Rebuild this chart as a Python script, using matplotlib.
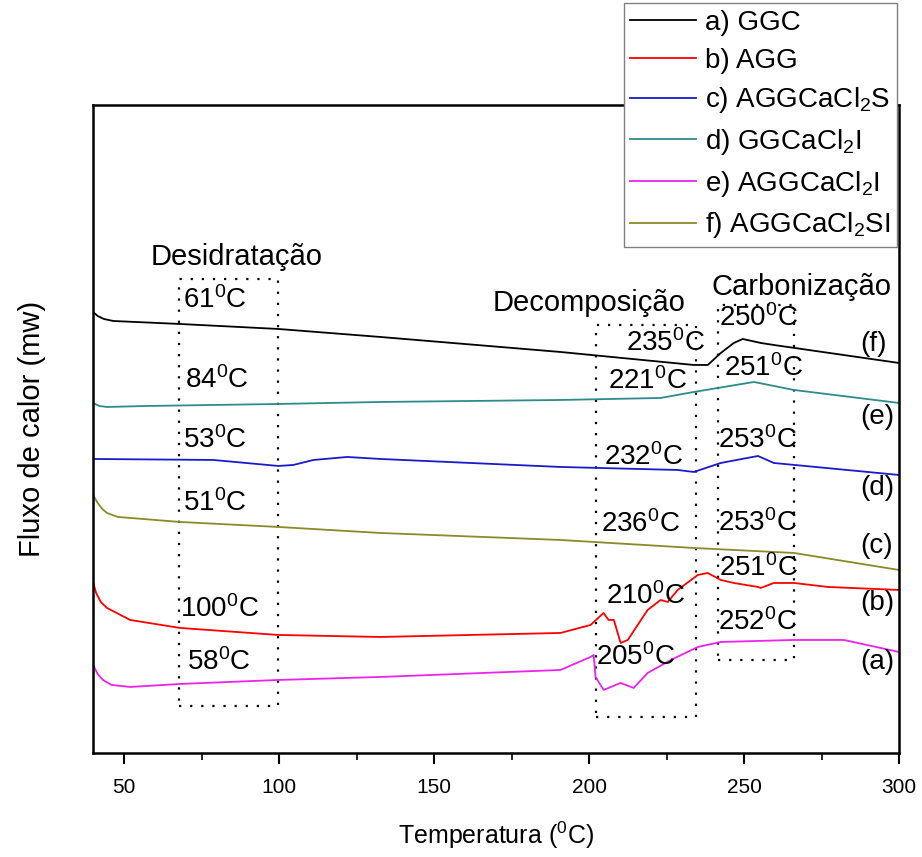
import matplotlib.pyplot as plt
from matplotlib.patches import Rectangle

plt.rcParams['font.family'] = ['Liberation Sans', 'DejaVu Sans']
plt.rcParams['mathtext.fontset'] = 'custom'
plt.rcParams['mathtext.rm'] = 'Liberation Sans'
plt.rcParams['mathtext.default'] = 'regular'

# DSC curves (temperature in C, heat flow in arbitrary units, already offset)
t_ggc = [40.0, 41.5, 43.5, 46.5, 68.1, 99.8, 132.7, 190.8, 233.8, 238.3, 242.5, 246.7, 249.6, 255.4, 259.6, 300.0]
y_ggc = [441, 437, 434, 432, 429, 424, 416, 401, 388, 388, 400, 410, 414, 410, 408, 390]

t_gg_i = [40.0, 42.0, 44.5, 57.4, 99.8, 132.7, 190.8, 223.1, 233.8, 253.2, 266.1, 300.0]
y_gg_i = [350, 347, 346, 347, 349, 351, 353, 355, 361, 371, 363, 350]

t_agg_s = [40.0, 78.8, 99.8, 104.6, 111.1, 122.0, 132.7, 190.8, 228.6, 233.8, 242.5, 254.5, 259.6, 300.0]
y_agg_s = [294, 293, 287, 288, 293, 296, 294, 286, 283, 281, 290, 297, 290, 278]

t_agg_si = [40.0, 41.5, 43.0, 44.5, 48.0, 68.1, 99.8, 132.7, 190.8, 233.8, 266.1, 300.0]
y_agg_si = [258, 250, 244, 240, 236, 231, 226, 220, 213, 205, 200, 183]

t_agg = [40.0, 41.0, 42.5, 44.5, 52.0, 68.1, 99.8, 132.7, 190.8, 200.5, 204.7, 206.3, 208.0, 210.2, 212.5,
         218.9, 223.1, 225.4, 228.6, 235.1, 238.3, 242.5, 246.7, 254.5, 255.4, 259.6, 266.1, 277.1, 300.0]
y_agg = [171, 160, 151, 145, 133, 125, 118, 116, 120, 128, 140, 133, 133, 110, 113,
         143, 153, 151, 163, 178, 180, 173, 170, 166, 165, 170, 170, 166, 163]

t_agg_i = [40.0, 41.5, 43.2, 46.0, 52.0, 68.1, 99.8, 132.7, 190.8, 200.5, 201.5, 202.1, 204.7, 210.2, 214.4,
           218.9, 226.4, 235.1, 242.5, 266.1, 282.2, 300.0]
y_agg_i = [88, 79, 73, 68, 66, 69, 73, 76, 83, 96, 98, 76, 63, 70, 65,
           80, 93, 106, 111, 113, 113, 101]

legend_labels = ['a) GGC', 'b) AGG', 'c) AGGCaCl$_2$S', 'd) GGCaCl$_2$I',
                 'e) AGGCaCl$_2$I', 'f) AGGCaCl$_2$SI']
colors = ['black', 'red', '#1a1acc', '#2e8b8b', '#ee22ee', '#8a8a2a']

# peak annotations: (text, T, y)
peak_labels = [
    ('61', 69.1, 453), ('84', 69.7, 373), ('53', 69.1, 313), ('51', 69.1, 250),
    ('100', 68.1, 144), ('58', 70.3, 91),
    ('235', 211.8, 410), ('221', 206.0, 372), ('232', 204.7, 296), ('236', 203.8, 229),
    ('210', 205.4, 157), ('205', 202.1, 96),
    ('250', 241.9, 435), ('251', 243.5, 385), ('253', 241.5, 313), ('253', 241.5, 230),
    ('251', 241.9, 185), ('252', 241.5, 131),
]
curve_tags = [('(f)', 409), ('(e)', 336), ('(d)', 265), ('(c)', 207), ('(b)', 150), ('(a)', 91)]

# region boxes: (T_left, T_right, y_bottom, y_top)
regions = [(67.8, 99.8, 47, 474), (202.1, 234.4, 36, 428), (241.5, 266.1, 93, 448)]
region_names = [('Desidratação', 86.2, 496), ('Decomposição', 199.9, 450), ('Carbonização', 268.4, 466)]

fig = plt.figure(figsize=(9.22, 8.57), dpi=100)
ax = fig.add_axes([0.1009, 0.1214, 0.8742, 0.7561])

series = [(t_ggc, y_ggc), (t_agg, y_agg), (t_agg_s, y_agg_s),
          (t_gg_i, y_gg_i), (t_agg_i, y_agg_i), (t_agg_si, y_agg_si)]
plot_order = [0, 3, 2, 5, 1, 4]
handles = [None] * 6
for i in plot_order:
    t, y = series[i]
    handles[i], = ax.plot(t, y, color=colors[i], lw=1.3)

for (tl, tr, yb, yt) in regions:
    ax.add_patch(Rectangle((tl, yb), tr - tl, yt - yb, fill=False, ec='black',
                           lw=1.6, ls=(0, (1, 4))))

for name, t, y in region_names:
    ax.text(t, y, name, ha='center', va='center', fontsize=21)

for val, t, y in peak_labels:
    ax.text(t, y, val + '$^0$C', ha='left', va='center', fontsize=20)

for tag, y in curve_tags:
    ax.text(287.5, y, tag, ha='left', va='center', fontsize=20)

ax.set_xlim(40, 300)
ax.set_ylim(0, 648)
ax.set_xticks([50, 100, 150, 200, 250, 300])
ax.set_xticks([75, 125, 175, 225, 275], minor=True)
ax.tick_params(axis='x', direction='out', length=8, width=1.5, labelsize=15, pad=10)
ax.tick_params(axis='x', which='minor', direction='out', length=5, width=1.2)
ax.set_yticks([])
for s in ax.spines.values():
    s.set_linewidth(1.8)

ax.set_xlabel('Temperatura ($^0$C)', fontsize=18, labelpad=16)
ax.set_ylabel('Fluxo de calor (mw)', fontsize=21, labelpad=34)

fig.legend(handles, legend_labels, loc='upper right', bbox_to_anchor=(897 / 922, 1 - 3 / 857),
           fontsize=20, frameon=True, fancybox=False, edgecolor='gray', framealpha=1,
           handlelength=2.35, labelspacing=0.42, borderaxespad=0, borderpad=0.25,
           handletextpad=0.32)

fig.savefig('out.png', dpi=100)
